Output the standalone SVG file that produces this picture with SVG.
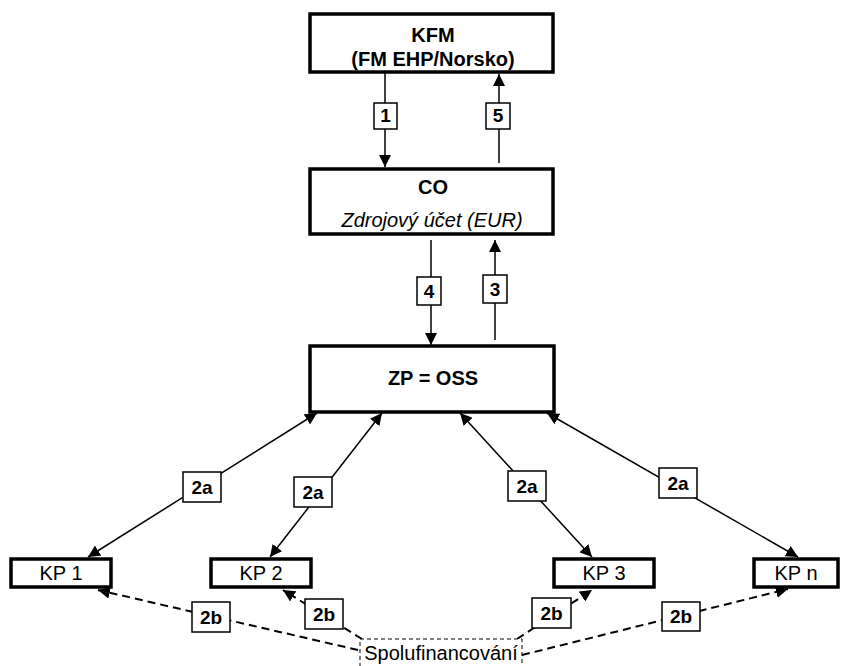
<svg xmlns="http://www.w3.org/2000/svg" width="843" height="666" viewBox="0 0 843 666">
<style>
text{font-family:"Liberation Sans",Arial,sans-serif;fill:#000;text-anchor:middle}
.main{fill:#fff;stroke:#000;stroke-width:3.5}
.kp{fill:#fff;stroke:#000;stroke-width:3.5}
.lbl{fill:#fff;stroke:#000;stroke-width:1.5}
.b{font-weight:bold;font-size:20px}
.n{font-size:20px}
.l{font-weight:bold;font-size:19px}
.arr{stroke:#000;stroke-width:1.5;fill:none}
.dash{stroke:#000;stroke-width:2;fill:none;stroke-dasharray:8,5}
</style>
<defs>
<marker id="ah" markerUnits="userSpaceOnUse" markerWidth="12" markerHeight="12" viewBox="0 0 12 12" refX="12" refY="6" orient="auto-start-reverse">
<path d="M0,0 L12,6 L0,12 z" fill="#000"/>
</marker>
</defs>
<g id="connectors">
<line class="arr" x1="385" y1="72" x2="385" y2="167" marker-end="url(#ah)"/>
<line class="arr" x1="499" y1="163" x2="499" y2="74" marker-end="url(#ah)"/>
<line class="arr" x1="431" y1="240" x2="431" y2="345" marker-end="url(#ah)"/>
<line class="arr" x1="495" y1="340" x2="495" y2="240" marker-end="url(#ah)"/>
<line class="arr" x1="317" y1="413" x2="88" y2="557" marker-start="url(#ah)" marker-end="url(#ah)"/>
<line class="arr" x1="382" y1="413" x2="270" y2="557" marker-start="url(#ah)" marker-end="url(#ah)"/>
<line class="arr" x1="460" y1="413" x2="592" y2="557" marker-start="url(#ah)" marker-end="url(#ah)"/>
<line class="arr" x1="547" y1="413" x2="798" y2="557" marker-start="url(#ah)" marker-end="url(#ah)"/>
<line class="dash" x1="358" y1="650" x2="98" y2="590" marker-end="url(#ah)"/>
<line class="dash" x1="362" y1="639" x2="283" y2="590" marker-end="url(#ah)"/>
<line class="dash" x1="517" y1="639" x2="592" y2="590" marker-end="url(#ah)"/>
<line class="dash" x1="522" y1="655" x2="788" y2="589" marker-end="url(#ah)"/>
<rect class="lbl" x="374" y="103" width="23" height="26"/><text class="l" x="385.5" y="122">1</text>
<rect class="lbl" x="486" y="103" width="24" height="26"/><text class="l" x="498" y="122">5</text>
<rect class="lbl" x="417" y="277" width="24" height="28"/><text class="l" x="429" y="298">4</text>
<rect class="lbl" x="483" y="275" width="24" height="28"/><text class="l" x="495" y="296">3</text>
<rect class="lbl" x="183" y="472" width="38" height="30"/><text class="l" x="202" y="494">2a</text>
<rect class="lbl" x="294" y="477" width="38" height="30"/><text class="l" x="313" y="499">2a</text>
<rect class="lbl" x="508" y="471" width="38" height="30"/><text class="l" x="527" y="493">2a</text>
<rect class="lbl" x="659" y="468" width="38" height="30"/><text class="l" x="678" y="490">2a</text>
<rect class="lbl" x="192" y="602" width="38" height="30"/><text class="l" x="211" y="624">2b</text>
<rect class="lbl" x="305" y="599" width="38" height="30"/><text class="l" x="324" y="621">2b</text>
<rect class="lbl" x="532" y="598" width="39" height="30"/><text class="l" x="551.5" y="620">2b</text>
<rect class="lbl" x="662" y="602" width="38" height="29"/><text class="l" x="681" y="623">2b</text>
</g>
<g id="kfm">
<rect class="main" x="310" y="14" width="243" height="58"/>
<text class="b" x="433" y="42">KFM</text>
<text class="b" x="433" y="66">(FM EHP/Norsko)</text>
</g>
<g id="co">
<rect class="main" x="310" y="169" width="243" height="65"/>
<text class="b" x="433" y="194">CO</text>
<text class="n" x="432" y="227" font-style="italic" font-size="19.5">Zdrojový účet (EUR)</text>
</g>
<g id="zp">
<rect class="main" x="310" y="346" width="244" height="66"/>
<text class="b" x="433" y="385">ZP = OSS</text>
</g>
<g id="kp1">
<rect class="kp" x="11" y="559" width="100" height="28"/>
<text class="n" x="61" y="580">KP 1</text>
</g>
<g id="kp2">
<rect class="kp" x="211" y="559" width="100" height="28"/>
<text class="n" x="261" y="580">KP 2</text>
</g>
<g id="kp3">
<rect class="kp" x="554" y="559" width="100" height="28"/>
<text class="n" x="604" y="580">KP 3</text>
</g>
<g id="kpn">
<rect class="kp" x="754" y="559" width="84" height="28"/>
<text class="n" x="796" y="580">KP n</text>
</g>
<g id="spolufinancovani">
<rect x="360" y="639" width="162" height="34" fill="#fff" stroke="#000" stroke-width="1" stroke-dasharray="4,3"/>
<text class="n" x="441" y="660" font-size="19">Spolufinancování</text>
</g>
</svg>
